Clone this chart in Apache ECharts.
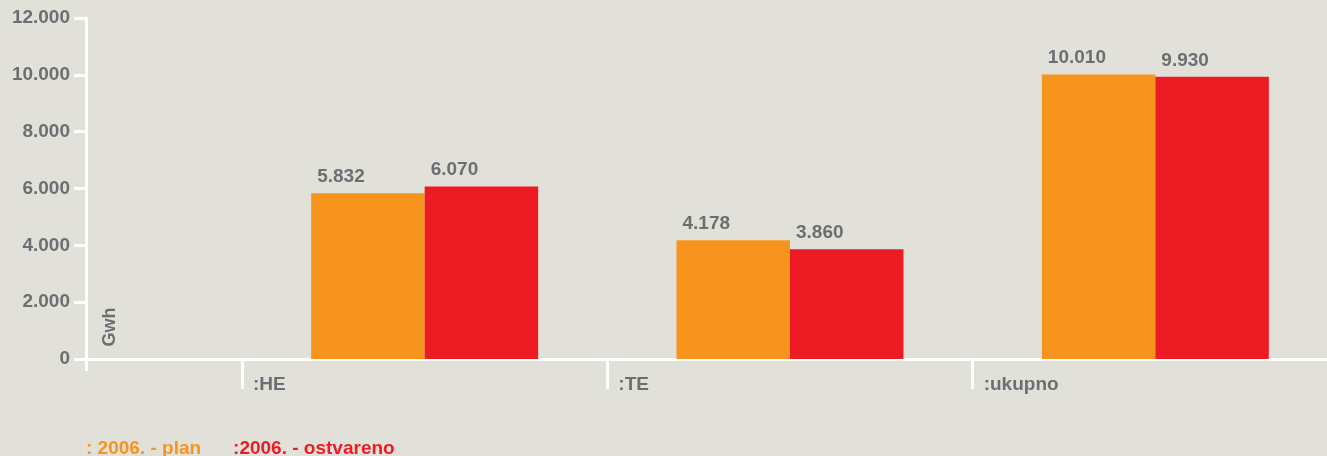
<!DOCTYPE html>
<html>
<head>
<meta charset="utf-8">
<script src="https://cdn.jsdelivr.net/npm/echarts@6/dist/echarts.min.js"></script>
<style>
  html, body { margin: 0; padding: 0; background: #e2e1d9; overflow: hidden; }
  #chart { width: 1341px; height: 456px; }
</style>
</head>
<body>
<div id="chart"></div>
<script>
  // podaci
  var categories = [':HE', ':TE', ':ukupno'];
  var seriesNames = [': 2006. - plan', ':2006. - ostvareno'];
  var planValues = [5832, 4178, 10010];
  var actualValues = [6070, 3860, 9930];
  var yMax = 12000;
  var yStep = 2000;

  var gray = '#6d6e71';
  var orange = '#f7941e';
  var red = '#ed1c24';
  var font = '"Liberation Sans", Arial, Helvetica, sans-serif';

  // 5832 -> 5.832
  function fmt(v) {
    return String(v).replace(/\B(?=(\d{3})+(?!\d))/g, '.');
  }

  var chart = echarts.init(document.getElementById('chart'));

  var barLabel = {
    show: true,
    position: [6, -26],
    color: gray,
    fontSize: 19,
    fontWeight: 'bold',
    fontFamily: font,
    formatter: function (p) { return fmt(p.value); }
  };

  var option = {
    backgroundColor: '#e2e1d9',
    animation: false,
    grid: [
      { left: 242, right: 0, top: 18, bottom: 97 },
      { left: 86, right: 0, top: 18, bottom: 97 }
    ],
    legend: {
      left: 76,
      top: 434,
      itemWidth: 0,
      itemHeight: 0,
      itemGap: 27,
      selectedMode: false,
      textStyle: { fontSize: 19, fontWeight: 'bold', fontFamily: font },
      data: [
        { name: seriesNames[0], icon: 'rect', textStyle: { color: orange } },
        { name: seriesNames[1], icon: 'rect', textStyle: { color: red } }
      ]
    },
    xAxis: [
      {
        type: 'category',
        gridIndex: 0,
        position: 'bottom',
        data: categories,
        axisLine: { lineStyle: { color: '#fff', width: 3 } },
        axisTick: { show: false },
        axisLabel: { show: false }
      },
      {
        type: 'category',
        gridIndex: 0,
        position: 'bottom',
        boundaryGap: false,
        data: categories.concat(['']),
        axisLine: { show: false },
        axisTick: { show: true, length: 30, interval: 0, lineStyle: { color: '#fff', width: 3 } },
        axisLabel: {
          interval: 0,
          align: 'left',
          margin: 16,
          padding: [0, 0, 0, 11],
          color: gray,
          fontSize: 19,
          fontWeight: 'bold',
          fontFamily: font
        }
      },
      {
        type: 'value',
        gridIndex: 1,
        position: 'bottom',
        min: 0,
        max: 1,
        interval: 1,
        axisLine: { lineStyle: { color: '#fff', width: 3 } },
        axisTick: { show: true, length: 12, lineStyle: { color: '#fff', width: 3 } },
        axisLabel: { show: false },
        splitLine: { show: false }
      }
    ],
    yAxis: [
      {
        type: 'value',
        gridIndex: 0,
        min: 0,
        max: yMax,
        interval: yStep,
        offset: 156,
        axisLine: { show: true, lineStyle: { color: '#fff', width: 3 } },
        axisTick: { show: true, length: 12, lineStyle: { color: '#fff', width: 3 } },
        axisLabel: {
          margin: 16,
          padding: [6, 0, 0, 0],
          color: gray,
          fontSize: 19,
          fontWeight: 'bold',
          fontFamily: font,
          formatter: fmt
        },
        splitLine: { show: false }
      },
      {
        type: 'value',
        gridIndex: 1,
        min: 0,
        max: yMax,
        show: false
      }
    ],
    graphic: [{
      type: 'text',
      x: 110,
      y: 327,
      rotation: Math.PI / 2,
      style: {
        text: 'Gwh',
        fill: gray,
        font: 'bold 18px ' + font,
        align: 'center',
        verticalAlign: 'middle'
      }
    }],
    series: [
      {
        name: seriesNames[0],
        type: 'bar',
        xAxisIndex: 0,
        yAxisIndex: 0,
        barWidth: 113.5,
        barGap: '0%',
        itemStyle: { color: orange },
        label: barLabel,
        data: planValues
      },
      {
        name: seriesNames[1],
        type: 'bar',
        xAxisIndex: 0,
        yAxisIndex: 0,
        barWidth: 113.5,
        barGap: '0%',
        itemStyle: { color: red },
        label: barLabel,
        data: actualValues
      }
    ]
  };

  chart.setOption(option);
</script>
</body>
</html>
